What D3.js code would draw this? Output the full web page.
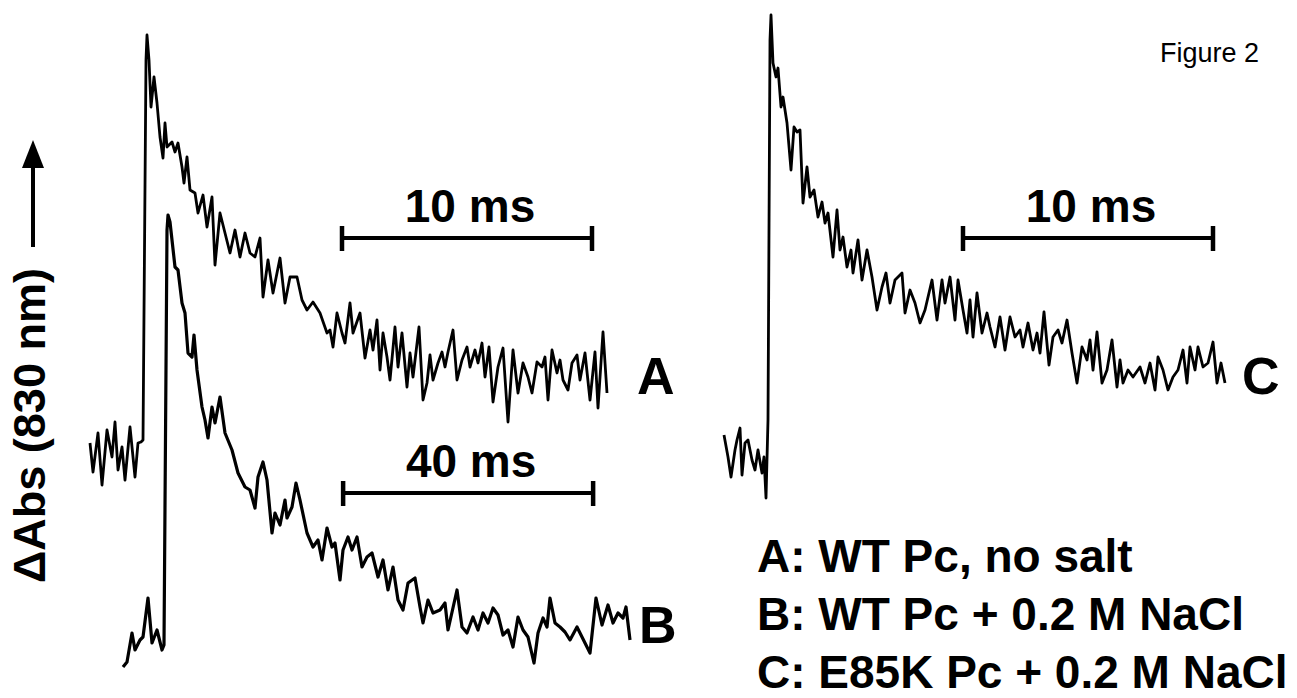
<!DOCTYPE html>
<html>
<head>
<meta charset="utf-8">
<script src="https://cdn.jsdelivr.net/npm/d3@7"></script>
<style>
  html, body { margin: 0; padding: 0; background: #fff; }
  svg { display: block; }
  text { font-family: "Liberation Sans", Arial, sans-serif; fill: #000; }
</style>
</head>
<body>
<svg id="chart" width="1297" height="698"></svg>
<script>
// ---- Data (time in ms after flash, ΔAbs in arbitrary units relative to pre-flash baseline) ----
const traceNames = ["A", "B", "C"];
const legendLabels = ["A: WT Pc, no salt", "B: WT Pc + 0.2 M NaCl", "C: E85K Pc + 0.2 M NaCl"];

const tA = [-2.08,-1.96,-1.76,-1.6,-1.4,-1.2,-1.08,-0.96,-0.8,-0.68,-0.48,-0.28,-0.16,-0.04,0.04,0.16,0.2,0.28,0.36,0.48,0.6,0.72,0.84,0.92,1.0,1.2,1.32,1.44,1.6,1.68,1.8,1.92,2.12,2.24,2.44,2.6,2.8,2.92,3.12,3.32,3.52,3.72,3.92,4.12,4.32,4.52,4.72,4.84,5.04,5.24,5.52,5.72,5.92,6.2,6.4,6.6,6.84,7.12,7.4,7.52,7.64,7.8,8.0,8.12,8.32,8.44,8.72,8.92,9.12,9.24,9.4,9.52,9.64,9.8,9.92,10.12,10.24,10.4,10.6,10.72,10.84,11.08,11.24,11.4,11.52,11.64,11.84,12.0,12.12,12.24,12.44,12.6,12.8,13.0,13.12,13.32,13.44,13.6,13.72,13.88,14.04,14.24,14.44,14.64,14.84,15.04,15.24,15.44,15.6,15.8,16.0,16.12,16.24,16.4,16.6,16.72,16.84,17.04,17.2,17.4,17.52,17.72,17.92,18.12,18.24,18.44,18.6];
const vA = [1.4,-4.4,3.4,-7.0,4.0,-1.4,5.6,-4.0,0.6,-6.0,4.6,-5.4,1.4,1.6,2.0,78,83,78,68.6,74.6,69.4,62.6,58.4,65.4,60.6,61.6,59.6,61.4,56.6,53.4,58.6,52,51.4,47.4,51,44.6,50.6,37,47.4,43.4,39.4,44,38.6,43.4,39.4,38.6,42.4,30.6,38,31.4,38.4,29.4,34.6,34.6,30,28,29.6,27.4,23.4,24,20.6,27.4,23.4,21.4,29.4,23.4,27.4,18.4,24,20,26,16,23.4,18.6,14,24.6,16.6,23.4,12.6,19.4,14.6,24.6,10,13.4,19,14,17.4,19.6,16.6,19.6,24,14,18,20.6,16.6,20,17.4,21.4,14.6,20.6,9.6,16.6,20.4,5.6,20,11.4,17.4,14.6,11.4,17.6,16.6,18.6,10,20,15.4,18,14,12,17.4,19,14,19.4,10,19.6,8.4,23.6,11.4];

const tB = [-6.72,-6.08,-5.28,-4.8,-4.0,-3.52,-2.72,-2.08,-1.28,-0.48,-0.16,0.32,0.48,0.8,1.12,1.6,2.08,2.72,3.2,3.68,4.32,4.64,5.12,5.92,6.4,6.88,7.52,8.0,8.8,9.6,10.72,11.68,12.8,13.6,14.4,14.88,15.68,16.32,17.12,17.6,18.4,19.2,19.52,20.32,20.96,21.6,22.72,23.68,24.48,25.12,25.92,26.72,27.2,28.0,28.48,29.28,29.92,30.72,31.52,32.32,33.12,34.08,34.88,35.68,36.48,37.28,38.08,38.88,40.0,40.8,41.28,42.08,42.88,44.0,44.8,45.28,46.72,47.52,48.32,49.28,50.08,50.88,51.68,52.48,53.28,54.08,54.88,55.68,56.48,57.28,58.08,59.04,59.68,60.48,61.12,61.6,62.4,63.2,64.0,64.8,65.92,66.72,67.52,68.0,68.96,69.92,70.88,71.68,72.48,73.28,73.76,74.4];
const vB = [-4.4,-3.4,2.4,-1.0,1.0,1.6,9.4,0.4,3.0,-1.0,0,83,86,84.6,81,75.6,75,68.4,66.4,58.4,57.6,62,55,47.6,45,41.4,47.6,44.4,49.6,42.4,39,34.4,31.6,31,27.4,33.6,36.6,33,22.4,26.4,24,29,25.4,27.6,32.4,29,22.4,19.6,21,17,23.4,19.6,20.4,13,19,21.6,19,21.6,15.6,17.6,18.4,13.6,17,11,15.6,9,7,12.4,13.4,7.6,4.4,9,6.4,7,8.4,3,11,3.6,2.4,5.6,3,6.4,4.4,7.4,6,2,3,-0.4,5.6,3,1.6,-3.6,2.4,5.4,3.6,9.4,4.4,3.6,2.6,1,3.6,1.6,-0.4,-1.6,9.4,4,8,4.4,6.4,5.4,7.6,1];

const tC = [-1.76,-1.6,-1.48,-1.32,-1.24,-1.12,-1.04,-0.92,-0.8,-0.64,-0.52,-0.4,-0.24,-0.16,-0.08,0,0.08,0.12,0.2,0.32,0.4,0.52,0.6,0.76,0.92,1.04,1.16,1.28,1.4,1.56,1.68,1.84,2.0,2.16,2.28,2.4,2.6,2.76,2.88,3.0,3.16,3.32,3.4,3.6,3.76,3.96,4.16,4.36,4.56,4.72,4.88,5.08,5.36,5.48,5.68,5.88,6.08,6.28,6.56,6.76,6.96,7.08,7.28,7.48,7.6,7.8,7.96,8.08,8.2,8.36,8.56,8.76,8.88,9.08,9.28,9.48,9.68,9.88,10.08,10.2,10.4,10.6,10.76,10.88,11.04,11.24,11.4,11.6,11.76,11.96,12.16,12.36,12.56,12.76,12.88,13.0,13.16,13.36,13.56,13.76,13.96,14.08,14.2,14.4,14.6,14.88,15.08,15.28,15.48,15.6,15.8,16.0,16.2,16.4,16.6,16.76,16.88,17.08,17.2,17.4,17.6,17.8,17.96,18.12,18.28];
const vC = [4,-0.4,-4.4,1,3,5.4,-4,2.4,3,-1,-3,1,-3.6,-0.4,-8.6,7,83,88,78.4,75.6,77.4,69.6,71.6,66.4,57,65.6,64.6,65,50.4,57.6,51.6,53,47.6,50.6,46.4,48.4,39.6,49,41,43.6,37.6,41,36.4,43,35,41,35.6,29,33.6,36.4,30.4,35,36.4,28.4,33,30.4,26.4,29,35,27,35,30.4,35.6,27,35,29,24.4,31,23.6,32.4,24.4,28.4,25.6,21.6,27.6,21,27.6,23.6,25,21.6,26.4,21,24.4,20.4,28.6,18,23.6,25,22.4,27,20.4,14.4,21.6,19,23,17,24.6,14.4,17,23,13.6,19,14.4,17,15.6,17.6,14.4,18.4,13,19.6,17,13,15.6,17,21,14.4,21.6,17,21.6,17.6,18.4,22.6,14.4,18.4,14.4];

// scale bars (ms)
const barStart = [8, 28.5, 7.8];
const barLength = [10, 40, 10];
const barLabels = ["10 ms", "40 ms", "10 ms"];
const barLevel = [42.4, 30.4, 43.4];

const yLabel = "ΔAbs (830 nm)";
const figureLabel = "Figure 2";

// ---- Layout ----
const svg = d3.select("#chart");
const layout = [
  { x0: 142, pxPerUnit: 25,   base: 450, labelX: 637, labelY: 394 },
  { x0: 165, pxPerUnit: 6.25, base: 645, labelX: 639, labelY: 643 },
  { x0: 768, pxPerUnit: 25,   base: 455, labelX: 1242, labelY: 394 }
];
const traces = [
  { t: tA, v: vA }, { t: tB, v: vB }, { t: tC, v: vC }
];

traces.forEach((tr, i) => {
  const L = layout[i];
  const x = d3.scaleLinear().domain([0, 10]).range([L.x0, L.x0 + 10 * L.pxPerUnit]);
  const y = d3.scaleLinear().domain([0, 100]).range([L.base, L.base - 500]);
  const pts = tr.t.map((t, k) => [t, tr.v[k]]);
  const line = d3.line().x(d => x(d[0])).y(d => y(d[1]));
  svg.append("path")
    .attr("d", line(pts))
    .attr("fill", "none")
    .attr("stroke", "#000")
    .attr("stroke-width", i === 1 ? 3.2 : 2.8)
    .attr("stroke-linejoin", "round");

  // scale bar
  const bx1 = x(barStart[i]), bx2 = x(barStart[i] + barLength[i]);
  const by = y(barLevel[i]);
  const g = svg.append("g");
  g.append("line").attr("x1", bx1).attr("x2", bx2).attr("y1", by).attr("y2", by)
    .attr("stroke", "#000").attr("stroke-width", 4);
  [bx1, bx2].forEach(bx => {
    g.append("line").attr("x1", bx).attr("x2", bx).attr("y1", by - 12).attr("y2", by + 13)
      .attr("stroke", "#000").attr("stroke-width", 4.5);
  });
  g.append("text")
    .attr("x", (bx1 + bx2) / 2 + 3).attr("y", by - 16)
    .attr("text-anchor", "middle")
    .attr("font-size", 46).attr("font-weight", "bold")
    .text(barLabels[i]);

  // trace label
  svg.append("text")
    .attr("x", L.labelX).attr("y", L.labelY)
    .attr("font-size", 52).attr("font-weight", "bold")
    .text(traceNames[i]);
});

// legend
legendLabels.forEach((s, i) => {
  svg.append("text")
    .attr("x", 757).attr("y", 572 + i * 58)
    .attr("font-size", 46).attr("font-weight", "bold")
    .text(s);
});

// y-axis label with arrow
svg.append("text")
  .attr("transform", "translate(45,583) rotate(-90)")
  .attr("font-size", 45).attr("font-weight", "bold")
  .text(yLabel);
svg.append("line").attr("x1", 33).attr("x2", 33).attr("y1", 247).attr("y2", 162)
  .attr("stroke", "#000").attr("stroke-width", 4);
svg.append("path").attr("d", "M33,140 L22,168 L44,168 Z").attr("fill", "#000");

// figure label
svg.append("text")
  .attr("x", 1160).attr("y", 62)
  .attr("font-size", 27)
  .text(figureLabel);
</script>
</body>
</html>
